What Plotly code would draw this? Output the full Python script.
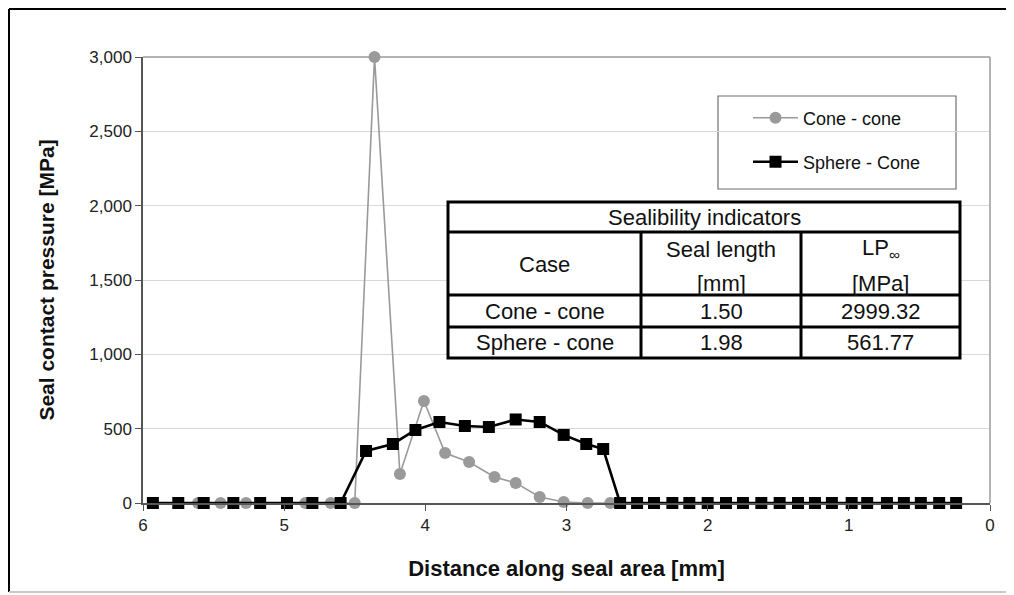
import plotly.graph_objects as go

# ---------------- data ----------------
cone_x = [5.61, 5.45, 5.27, 4.85, 4.67, 4.50, 4.36, 4.18, 4.01, 3.86, 3.69,
          3.51, 3.36, 3.19, 3.02, 2.85, 2.69]
cone_y = [0, 0, 0, 0, 0, 0, 2999.32, 195, 686, 336, 276,
          175, 135, 40, 7, 0, 0]

sphere_x = [5.93, 5.75, 5.57, 5.36, 5.17, 4.98, 4.80, 4.60, 4.42, 4.23, 4.07,
            3.90, 3.72, 3.55, 3.36, 3.19, 3.02, 2.86, 2.74, 2.62, 2.50, 2.38,
            2.25, 2.13, 2.00, 1.87, 1.75, 1.62, 1.49, 1.36, 1.24, 1.12, 0.98,
            0.87, 0.73, 0.61, 0.49, 0.36, 0.24]
sphere_y = [0, 0, 0, 0, 0, 0, 0, 0, 350, 397, 491,
            545, 518, 511, 561.77, 545, 458, 397, 363, 0, 0, 0,
            0, 0, 0, 0, 0, 0, 0, 0, 0, 0, 0,
            0, 0, 0, 0, 0, 0]

series_names = ["Cone - cone", "Sphere - Cone"]

x_ticks = [6, 5, 4, 3, 2, 1, 0]
y_ticks = [0, 500, 1000, 1500, 2000, 2500, 3000]

table_title = "Sealibility indicators"
table_header = ["Case", "Seal length<br>[mm]", "LP<sub>∞</sub><br>[MPa]"]
table_cases = ["Cone - cone", "Sphere - cone"]
table_seal_length = ["1.50", "1.98"]
table_lp = ["2999.32", "561.77"]

# ---------------- layout geometry ----------------
# The page has an 8 px body margin, so the figure starts at screen (8, 8).
OFF = 8
WIDTH, HEIGHT = 1014 - OFF, 595 - OFF
# plot area in screen pixels
SX0, SX1, SY0, SY1 = 143, 990, 57, 503
L = SX0 - OFF
R = WIDTH - (SX1 - OFF)
T = SY0 - OFF
B = HEIGHT - (SY1 - OFF)
PW = WIDTH - L - R
PH = HEIGHT - T - B


def px(xs):
    """screen x -> paper x"""
    return (xs - SX0) / PW


def py(ys):
    """screen y -> paper y"""
    return (SY1 - ys) / PH


FONT = "Liberation Sans, Arial, sans-serif"

fig = go.Figure()

fig.add_trace(go.Scatter(
    x=cone_x, y=cone_y, name=series_names[0], mode="lines+markers",
    line=dict(color="#9a9a9a", width=1.6),
    marker=dict(symbol="circle", size=12, color="#9a9a9a"),
    cliponaxis=False, legend="legend",
))
fig.add_trace(go.Scatter(
    x=sphere_x, y=sphere_y, name=series_names[1], mode="lines+markers",
    line=dict(color="#000000", width=2.6),
    marker=dict(symbol="square", size=12, color="#000000"),
    cliponaxis=False, legend="legend2",
))

shapes = []
annotations = []

# plot-area frame top / right (gray)
shapes.append(dict(type="line", xref="paper", yref="paper", x0=0, x1=1, y0=1, y1=1,
                   line=dict(color="#9a9a9a", width=1.5)))
shapes.append(dict(type="line", xref="paper", yref="paper", x0=1, x1=1, y0=0, y1=1,
                   line=dict(color="#9a9a9a", width=1.5)))

# outer figure border
bl, bt, br, bb = 9, 9, 1012, 592
shapes.append(dict(type="line", xref="paper", yref="paper", x0=px(bl), x1=px(br), y0=py(bt), y1=py(bt),
                   line=dict(color="#000000", width=2)))
shapes.append(dict(type="line", xref="paper", yref="paper", x0=px(bl), x1=px(bl), y0=py(bt), y1=py(bb),
                   line=dict(color="#000000", width=2)))
shapes.append(dict(type="line", xref="paper", yref="paper", x0=px(br), x1=px(br), y0=py(bt), y1=py(bb),
                   line=dict(color="#000000", width=2)))
shapes.append(dict(type="line", xref="paper", yref="paper", x0=px(bl), x1=px(br), y0=py(bb), y1=py(bb),
                   line=dict(color="#c8c8c8", width=2)))

# legend box
shapes.append(dict(type="rect", xref="paper", yref="paper", x0=px(718), x1=px(956), y0=py(96), y1=py(189),
                   line=dict(color="#6e6e6e", width=1.2), fillcolor="white", layer="below"))

# table
tx0, tx1 = 448, 960
ty0, ty1 = 202, 358
row_lines = [232, 295, 327]
col_lines = [641, 801]
shapes.append(dict(type="rect", xref="paper", yref="paper", x0=px(tx0), x1=px(tx1), y0=py(ty0), y1=py(ty1),
                   line=dict(color="#000000", width=3), fillcolor="white"))
for yl in row_lines:
    shapes.append(dict(type="line", xref="paper", yref="paper", x0=px(tx0), x1=px(tx1), y0=py(yl), y1=py(yl),
                       line=dict(color="#000000", width=3)))
for xl in col_lines:
    shapes.append(dict(type="line", xref="paper", yref="paper", x0=px(xl), x1=px(xl), y0=py(row_lines[0]), y1=py(ty1),
                       line=dict(color="#000000", width=3)))

col_centers = [(tx0 + col_lines[0]) / 2, (col_lines[0] + col_lines[1]) / 2, (col_lines[1] + tx1) / 2]
TFS = 22


def add_text(xc, yc, text, size=TFS):
    annotations.append(dict(xref="paper", yref="paper", x=px(xc), y=py(yc), text=text, showarrow=False,
                            xanchor="center", yanchor="middle",
                            font=dict(family=FONT, size=size, color="#111111")))


add_text((tx0 + tx1) / 2, 217, table_title)
add_text(col_centers[0], 264, table_header[0])
for i, h in enumerate(table_header[1:], start=1):
    top, bottom = h.split("<br>")
    add_text(col_centers[i], 249, top)
    add_text(col_centers[i], 283, bottom)
row_centers = [311, 342]
for r in range(2):
    add_text(col_centers[0], row_centers[r], table_cases[r])
    add_text(col_centers[1], row_centers[r], table_seal_length[r])
    add_text(col_centers[2], row_centers[r], table_lp[r])

fig.update_layout(
    width=WIDTH, height=HEIGHT,
    margin=dict(l=L, r=R, t=T, b=B),
    paper_bgcolor="white", plot_bgcolor="white",
    font=dict(family=FONT, size=16, color="#222222"),
    shapes=shapes, annotations=annotations,
    showlegend=True,
    legend=dict(x=px(748), y=py(118), xanchor="left", yanchor="middle",
                bgcolor="rgba(0,0,0,0)", borderwidth=0, itemwidth=45,
                font=dict(family=FONT, size=18, color="#111111")),
    legend2=dict(x=px(748), y=py(162), xanchor="left", yanchor="middle",
                 bgcolor="rgba(0,0,0,0)", borderwidth=0, itemwidth=45,
                 font=dict(family=FONT, size=18, color="#111111")),
    xaxis=dict(range=[6, 0], tickvals=x_ticks, ticktext=[str(v) for v in x_ticks],
               showgrid=False, zeroline=False, showline=True, linecolor="#555555", linewidth=1.5,
               ticks="outside", ticklen=6, tickcolor="#555555",
               tickfont=dict(family=FONT, size=17, color="#222222"),
               title=dict(text="<b>Distance along seal area [mm]</b>", standoff=26,
                          font=dict(family=FONT, size=22, color="#111111"))),
    yaxis=dict(range=[0, 3000], tickvals=y_ticks, tickformat=",",
               showgrid=True, gridcolor="#d9d9d9", gridwidth=1, zeroline=False,
               showline=True, linecolor="#555555", linewidth=1.5,
               ticks="outside", ticklen=6, tickcolor="#555555",
               tickfont=dict(family=FONT, size=17, color="#222222"),
               title=dict(text="<b>Seal contact pressure [MPa]</b>", standoff=29,
                          font=dict(family=FONT, size=21, color="#111111"))),
)

fig.write_html("out.html")
